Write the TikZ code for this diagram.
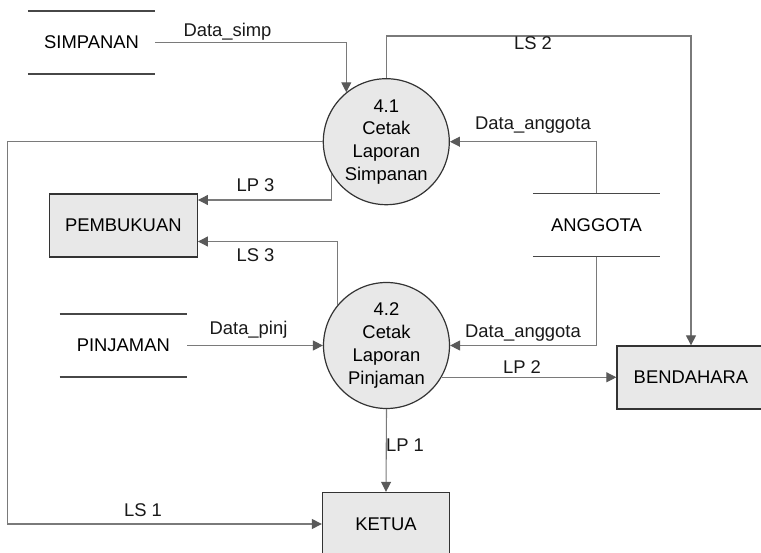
\documentclass[tikz,border=0pt]{standalone}
\usepackage{fontspec}
\setmainfont{Liberation Sans}
\usetikzlibrary{arrows.meta,calc}
\definecolor{flowgray}{HTML}{7A7A7A}
\definecolor{tipgray}{HTML}{5A5A5A}
\definecolor{shapefill}{HTML}{E8E8E8}
\definecolor{edgegray}{HTML}{333333}

\begin{document}
\begin{tikzpicture}[x=1pt,y=-1pt,font=\fontsize{18.4}{22.7}\selectfont,
    proc/.style={circle,draw=edgegray,line width=1.2pt,fill=shapefill,minimum size=126pt,inner sep=0pt,align=center},
    entity/.style={rectangle,draw=edgegray,line width=1.3pt,fill=shapefill,minimum height=63pt,inner sep=0pt},
    store/.style={minimum width=127pt,minimum height=63pt,inner sep=0pt},
    storeline/.style={draw=edgegray!90,line width=1.5pt},
    flow/.style={draw=flowgray,line width=1.1pt,-{Triangle[length=10pt,width=10pt,color=tipgray]}},
    lbl/.style={inner sep=0pt,text=black!90}]
    \useasboundingbox (0,0) rectangle (761,553);
    \clip (0,0) rectangle (761,553);
    \node[store] (simp) at (91.5,42.5) {SIMPANAN};
    \node[store] (angg) at (596.5,225) {ANGGOTA};
    \node[store] (pinj) at (123.3,345.5) {PINJAMAN};
    \foreach \s in {simp,angg,pinj}
      \draw[storeline] (\s.north west)--(\s.north east) (\s.south west)--(\s.south east);
    \node[proc] (p41) at (386.3,141.7) {4.1\\Cetak\\Laporan\\Simpanan};
    \node[proc] (p42) at (386.5,345.5) {4.2\\Cetak\\Laporan\\Pinjaman};
    \node[entity,minimum width=148pt] (pemb) at (123.3,225.5) {PEMBUKUAN};
    \node[entity,minimum width=127pt] (ketua) at (386,524) {KETUA};
    \node[entity,minimum width=148pt] (bend) at (691,377.5) {BENDAHARA};
    \coordinate (ls2top) at (386.3,36);
    \coordinate (ls1left) at (7.7,141.7);
    \draw[flow] (simp.east) -| (p41.129);
    \draw[flow] (p41.north) -- (ls2top) -| (bend.north);
    \draw[flow] (angg.north) |- (p41.east);
    \draw[flow] (angg.south) |- (p42.east);
    \draw[flow] (p41.west) -- (ls1left) |- (ketua.west);
    \draw[flow] (p41.211) |- ([yshift=25.5pt]pemb.east);
    \draw[flow] (p42.140) |- ([yshift=-16pt]pemb.east);
    \draw[flow] (pinj.east) -- (p42.west);
    \draw[flow] (p42.-30) -- (p42.-30 -| bend.west);
    \draw[flow] (p42.south) -- (ketua.north);
    \node[lbl] (tSimp) at (227.5,31.7) {Data\_simp};
    \node[lbl] (tLS2) at (533,43.3) {LS 2};
    \node[lbl] (tAngg1) at (533,125.3) {Data\_anggota};
    \node[lbl] (tLP3) at (255.5,185) {LP 3};
    \node[lbl] (tLS3) at (255.5,255) {LS 3};
    \node[lbl] (tPinj) at (248.5,329.3) {Data\_pinj};
    \node[lbl] (tAngg2) at (523,332.7) {Data\_anggota};
    \node[lbl] (tLP2) at (522,366.7) {LP 2};
    \node[lbl] (tLP1) at (405,445) {LP 1};
    \node[lbl] (tLS1) at (143,510) {LS 1};
\end{tikzpicture}
\end{document}
